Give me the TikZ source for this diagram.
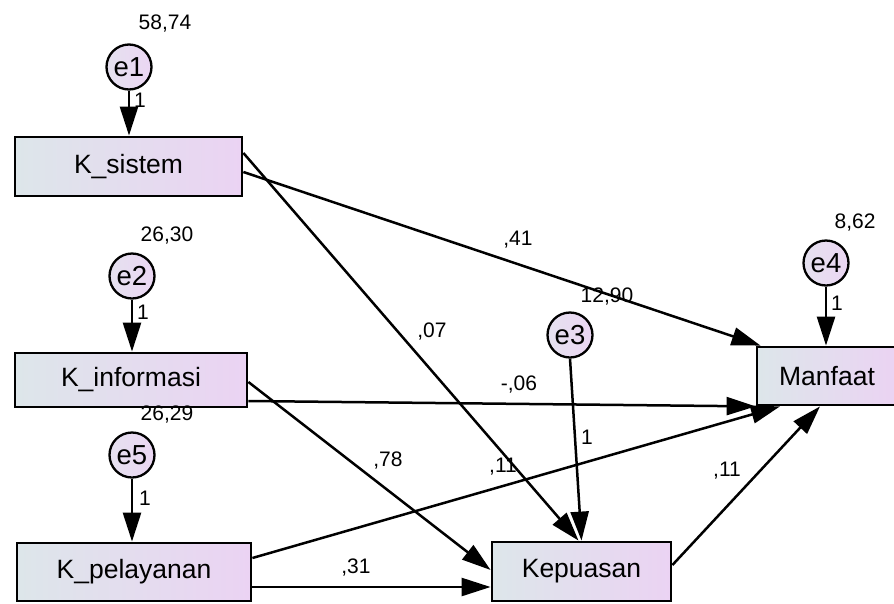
\documentclass[tikz,border=0pt]{standalone}
\usepackage{fontspec}
\setmainfont{Liberation Sans}
\usetikzlibrary{arrows.meta}
\definecolor{gl}{HTML}{DDE6EA}
\definecolor{gr}{HTML}{EBD3F3}
\definecolor{cl}{HTML}{E5E1EF}
\definecolor{cr}{HTML}{EBD6F3}
\begin{document}
\begin{tikzpicture}[x=1pt,y=-1pt,
  box/.style={draw=black, line width=2.8pt, left color=gl, right color=gr, inner sep=0pt, font=\fontsize{26.5}{30}\selectfont},
  err/.style={circle, draw=black, line width=2.3pt, left color=cl, right color=cr, minimum size=45pt, inner sep=0pt, font=\fontsize{27.5}{30}\selectfont},
  conn/.style={line width=2.5pt, -{Triangle[length=29pt,width=18pt]}},
  lab/.style={font=\fontsize{21}{24}\selectfont, inner sep=0pt}]
\useasboundingbox (0,0) rectangle (894,603);
% boxes
\node[box, minimum width=227pt, minimum height=59pt] (ks) at (128.5,166.5) {K\_sistem};
\node[box, minimum width=232pt, minimum height=54pt] (ki) at (131,380) {K\_informasi};
\node[box, minimum width=234pt, minimum height=58pt] (kp) at (134,572) {K\_pelayanan};
\node[box, minimum width=179pt, minimum height=59pt] (kep) at (581.5,571.5) {Kepuasan};
\node[box, minimum width=140pt, minimum height=58pt] (man) at (827,376) {Manfaat};
% error terms
\node[err] (e1) at (129,67) {e1};
\node[err] (e2) at (132,276) {e2};
\node[err] (e5) at (132,455) {e5};
\node[err] (e3) at (570,335) {e3};
\node[err] (e4) at (826,263) {e4};
% connectors
\draw[conn] (e1.south) -- (ks.north -| e1.south);
\draw[conn] (e2.south) -- (ki.north -| e2.south);
\draw[conn] (e5.south) -- (kp.north -| e5.south);
\draw[conn] (e4.south) -- (man.north -| e4.south);
\draw[conn] (e3.south) -- (kep.north);
\draw[conn] ([yshift=13.5pt]ks.east) -- ([xshift=-3pt]kep.north);
\draw[conn] ([yshift=-5.5pt]ks.east) -- ([xshift=5pt]man.north west);
\draw[conn] ([yshift=-21pt]ki.east) -- (man.south west);
\draw[conn] ([yshift=-2pt]ki.east) -- ([yshift=1.5pt]kep.west);
\draw[conn] ([yshift=14pt]kp.east) -- ([xshift=-47pt]man.south);
\draw[conn] ([yshift=-15pt]kp.east) -- ([yshift=-15.5pt]kep.west);
\draw[conn] ([yshift=6.5pt]kep.east) -- ([xshift=-7pt]man.south);
% labels
\node[lab] at (165,24) {58,74};
\node[lab] at (167,236) {26,30};
\node[lab] at (167,415) {26,29};
\node[lab] at (855,223) {8,62};
\node[lab] at (607,297) {12,90};
\node[lab] at (140,100) {1};
\node[lab] at (143,312) {1};
\node[lab] at (145,498) {1};
\node[lab] at (837,303) {1};
\node[lab] at (587,437) {1};
\node[lab] at (518,240) {,41};
\node[lab] at (432,332) {,07};
\node[lab] at (519,385) {-,06};
\node[lab] at (388,461) {,78};
\node[lab] at (503,467) {,11};
\node[lab] at (727,471) {,11};
\node[lab] at (356,568) {,31};
\end{tikzpicture}
\end{document}
